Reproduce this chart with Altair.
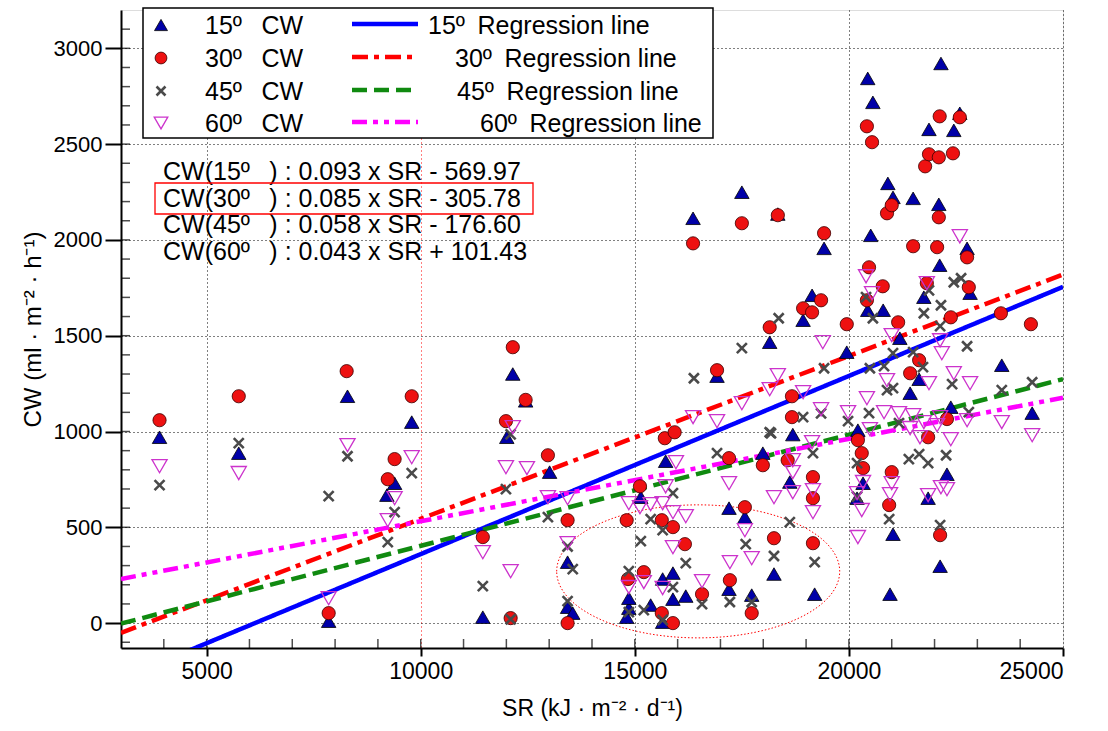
import altair as alt
import pandas as pd

# ---------------- data ----------------
sr15 = [3900, 5750, 7850, 8290, 9210, 9390, 9790, 11450, 12010, 12150, 12450, 13010, 13430, 13430, 13550,
        14810, 14860, 14860, 15140, 15370, 15650, 15650, 15720, 15890, 15890, 16190, 16360, 16920, 17200,
        17200, 17500, 17570, 17730, 17990, 18150, 18250, 18340, 18620, 18690, 18930, 19140, 19200, 19420,
        19950, 20190, 20210, 20330, 20440, 20440, 20510, 20560, 20800, 20910, 20960, 21030, 21030, 21190,
        21430, 21500, 21640, 21750, 21850, 21870, 22100, 22120, 22130, 22150, 22290, 22380, 22450, 22590,
        22760, 22830, 23570, 24280]
cw15 = [970, 887, 10, 1184, 668, 730, 1049, 31, 970, 1300, 1160, 788, 318, 83, 52,
        31, 78, 130, 657, 94, 5, 230, 845, 125, 261, 141, 2113, 1289, 177,
        600, 2249, 553, 146, 887, 1466, 256, 2135, 736, 984, 1581, 1711, 151, 1956,
        1414, 652, 1007, 730, 2843, 1633, 2024, 2718, 1633, 2295, 151, 2222, 464, 1487,
        1200, 2217, 1273, 1701, 652, 2577, 2186, 1868, 297, 2921, 777, 1127, 2572, 2661,
        1956, 1722, 1346, 1096]

sr30 = [3900, 5750, 7850, 8270, 9230, 9390, 9790, 11450, 11990, 12100, 12150, 12450, 12970, 13430, 13430,
        14810, 14840, 15120, 15210, 15630, 15630, 15700, 15890, 15890, 15930, 16170, 16360, 16570, 16920,
        17200, 17220, 17500, 17570, 17730, 17990, 18150, 18250, 18340, 18570, 18670, 18670, 18930, 19140,
        19160, 19160, 19160, 19350, 19420, 19950, 20210, 20300, 20330, 20420, 20420, 20470, 20540, 20790,
        20890, 20940, 21000, 21000, 21150, 21430, 21500, 21640, 21780, 21820, 21850, 21870, 22060, 22100,
        22100, 22120, 22130, 22290, 22380, 22430, 22590, 22760, 22800, 23550, 24250]
cw30 = [1059, 1184, 52, 1315, 751, 856, 1184, 449, 1054, 26, 1440, 1165, 876, 537, 0,
        537, 230, 714, 266, 537, 52, 965, 501, 0, 996, 412, 1982, 151, 1320,
        861, 224, 2087, 605, 52, 824, 1544, 443, 2129, 850, 1075, 1184, 1643, 1622,
        762, 652, 417, 1685, 2035, 1560, 955, 887, 809, 2593, 1685, 1857, 2510, 1758,
        2139, 616, 2181, 788, 1570, 1304, 1967, 1372, 2384, 1774, 970, 2447, 1962, 2431,
        2118, 2645, 459, 1065, 1596, 2452, 2640, 1909, 1753, 1617, 1560]

sr45 = [3900, 5750, 7850, 8290, 9230, 9390, 9790, 11450, 11990, 12100, 12100, 12970, 13430, 13430, 13550,
        14860, 14860, 15140, 15210, 15370, 15650, 15650, 15890, 15890, 16190, 16380, 16570, 16920, 17220,
        17500, 17590, 17730, 18150, 18180, 18250, 18360, 18620, 18930, 19160, 19200, 19350, 19420, 19980,
        20190, 20190, 20400, 20470, 20490, 20560, 20820, 20890, 20940, 21030, 21030, 21170, 21400, 21500,
        21640, 21730, 21750, 21850, 21870, 22130, 22130, 22150, 22270, 22410, 22450, 22620, 22760, 22800,
        23570, 24280]
cw45 = [720, 939, 663, 871, 423, 579, 783, 193, 699, 985, 20, 553, 400, 115, 282,
        271, 57, 428, 68, 543, 485, 16, 678, 188, 313, 1278, 99, 887, 110,
        1435, 412, 110, 996, 991, 350, 1591, 527, 1075, 887, 318, 1095, 1330, 1054,
        835, 660, 1701, 1096, 1330, 1591, 1341, 1216, 543, 1409, 1226, 1044, 856, 1414,
        882, 1336, 1617, 835, 1737, 1550, 511, 1659, 876, 1247, 1779, 1800, 1445, 1101,
        1216, 1257]

sr60 = [3900, 5750, 7850, 8290, 9230, 9390, 9790, 11450, 11990, 12100, 12150, 12480, 12970, 13430, 13430,
        14860, 14860, 15120, 15210, 15370, 15650, 15650, 15720, 15890, 15890, 15960, 16190, 16360, 16570,
        16920, 17200, 17220, 17500, 17570, 17730, 18150, 18250, 18340, 18690, 18690, 18690, 18930, 19140,
        19160, 19160, 19350, 19390, 19980, 20190, 20210, 20300, 20330, 20400, 20420, 20490, 20540, 20820,
        20890, 20960, 21000, 21000, 21170, 21430, 21500, 21660, 21750, 21820, 21850, 21870, 22060, 22130,
        22130, 22150, 22170, 22290, 22380, 22450, 22590, 22760, 22830, 23570, 24280]
cw60 = [819, 783, 130, 929, 537, 652, 866, 370, 814, 271, 1023, 809, 657, 652, 417,
        626, 188, 605, 214, 621, 626, 183, 714, 579, 396, 840, 558, 1075, 219,
        1054, 730, 318, 1148, 485, 339, 1221, 657, 1294, 683, 788, 850, 1205, 944,
        694, 579, 1116, 1466, 1101, 678, 449, 590, 736, 1810, 1174, 1012, 1722, 1101,
        1268, 673, 1503, 730, 1096, 1018, 1085, 970, 1049, 1774, 668, 1252, 1033, 1476,
        1075, 709, 1409, 699, 960, 1304, 2019, 1059, 1252, 1049, 981]

angles = ["15º", "30º", "45º", "60º"]
slopes = [0.093, 0.085, 0.058, 0.043]
intercepts = [-569.97, -305.78, -176.60, 101.43]
GAP = "\u2002\u00a0"
eq_texts = [f"CW(15º{GAP}) : 0.093 x SR - 569.97",
            f"CW(30º{GAP}) : 0.085 x SR - 305.78",
            f"CW(45º{GAP}) : 0.058 x SR - 176.60",
            f"CW(60º{GAP}) : 0.043 x SR + 101.43"]
x_ticks = [5000, 10000, 15000, 20000, 25000]
y_ticks = [0, 500, 1000, 1500, 2000, 2500, 3000]
x_minor = list(range(4000, 25000, 1000))
y_minor = list(range(-100, 3200, 100))
ellipse_center = [16480, 270]

# ---------------- styling ----------------
FONT = "Liberation Sans"
NARROW = "Liberation Sans Narrow, Arial Narrow, Liberation Sans"
W, H = 942, 638
XDOM = [3000, 25000]
YDOM = [-130, 3200]
grid_color = {"condition": {"test": "datum.value === 10000", "value": "#ff0000"}, "value": "#000000"}


def X():
    return alt.X("SR:Q", scale=alt.Scale(domain=XDOM, nice=False, zero=False),
                 axis=alt.Axis(values=x_ticks, format="d", title="SR (kJ · m⁻² · d⁻¹)",
                               grid=True, gridDash=[1, 3], gridColor=grid_color, gridWidth=1,
                               tickSize=8, tickWidth=2, tickColor="black",
                               domainColor="black", domainWidth=2,
                               labelFontSize=23, titleFontSize=23, labelPadding=4, titlePadding=14,
                               labelFont=NARROW, titleFont=NARROW, titleFontWeight="normal",
                               labelColor="black", titleColor="black"))


def Y():
    return alt.Y("CW:Q", scale=alt.Scale(domain=YDOM, nice=False, zero=False),
                 axis=alt.Axis(values=y_ticks, format="d", title="CW (ml · m⁻² · h⁻¹)",
                               grid=True, gridDash=[1, 3], gridColor="#000000", gridWidth=1,
                               tickSize=16, tickWidth=2, tickColor="black",
                               domainColor="black", domainWidth=2,
                               labelFontSize=22, titleFontSize=24, labelPadding=3, titlePadding=8,
                               labelFont=FONT, titleFont=FONT, titleFontWeight="normal",
                               labelColor="black", titleColor="black"))


def pts(sr, cw):
    return pd.DataFrame({"SR": sr, "CW": cw})


base_grid = alt.Chart(pts([3000], [0])).mark_point(opacity=0).encode(x=X(), y=Y())

# inside minor ticks
xt = alt.Chart(pd.DataFrame({"SR": x_minor})).mark_tick(orient="vertical", size=9, thickness=1.5,
                                                          color="black").encode(x=X(), y=alt.value(H - 4.5))
yt = alt.Chart(pd.DataFrame({"CW": y_minor})).mark_tick(orient="horizontal", size=9, thickness=1.5,
                                                          color="black").encode(y=Y(), x=alt.value(4.5))

# regression lines
line_styles = [
    dict(color="#0000ff", strokeDash=[1, 0]),
    dict(color="#ff0000", strokeDash=[16, 6, 5, 6]),
    dict(color="#108a10", strokeDash=[15, 7]),
    dict(color="#ff00ff", strokeDash=[15, 6, 5, 6, 5, 6]),
]
reg_layers = []
for a, m, b, st in zip(angles, slopes, intercepts, line_styles):
    df = pd.DataFrame({"SR": XDOM, "CW": [m * XDOM[0] + b, m * XDOM[1] + b]})
    reg_layers.append(alt.Chart(df).mark_line(strokeWidth=4.5, clip=True, **st).encode(x=X(), y=Y()))

XPATH = "M-1,-1L1,1M-1,1L1,-1"
sym_marks = [
    dict(shape="triangle-up", filled=True, fill="#0000a8", stroke="black", strokeWidth=0.8, size=210),
    dict(shape="circle", filled=True, fill="#ee1111", stroke="#3a0000", strokeWidth=0.8, size=175),
    dict(shape=XPATH, filled=False, stroke="#4a4a4a", strokeWidth=2.6, size=100),
    dict(shape="triangle-down", filled=False, stroke="#cc33cc", strokeWidth=1.3, size=230),
]
series = [(sr15, cw15), (sr30, cw30), (sr45, cw45), (sr60, cw60)]
pt_layers = [alt.Chart(pts(s, c)).mark_point(opacity=1, **sm).encode(x=X(), y=Y())
             for (s, c), sm in zip(series, sym_marks)]

# dotted ellipse annotation
k = 0.5523
rx, ry = 1.0, 0.47
ell_path = (f"M{-rx},0 C{-rx},{-k*ry} {-k*rx},{-ry} 0,{-ry} C{k*rx},{-ry} {rx},{-k*ry} {rx},0 "
            f"C{rx},{k*ry} {k*rx},{ry} 0,{ry} C{-k*rx},{ry} {-rx},{k*ry} {-rx},0 Z")
ell = alt.Chart(pts([ellipse_center[0]], [ellipse_center[1]])).mark_point(
    shape=ell_path, filled=False, stroke="#ff0000", strokeWidth=1, strokeDash=[1.5, 2],
    size=283 ** 2, opacity=1).encode(x=X(), y=Y())

# ---------------- legend ----------------
one = pd.DataFrame({"a": [0]})
leg = [alt.Chart(one).mark_rect(fill="white", stroke="black", strokeWidth=1.5).encode(
    x=alt.value(22), x2=alt.value(592), y=alt.value(-2), y2=alt.value(128))]
rows_y = [15, 48, 81, 113]
lab_x = [307, 334, 336, 359]
for i in range(4):
    yy = rows_y[i]
    sm = dict(sym_marks[i])
    sm["size"] = sm["size"] * 0.8
    leg.append(alt.Chart(one).mark_point(opacity=1, **sm).encode(x=alt.value(40), y=alt.value(yy)))
    leg.append(alt.Chart(one).mark_text(align="left", baseline="middle", fontSize=25, font=FONT,
                                        color="black").encode(x=alt.value(84), y=alt.value(yy + 1),
                                                              text=alt.value(f"{angles[i]}{GAP}CW")))
    leg.append(alt.Chart(one).mark_rule(strokeWidth=4.5, **line_styles[i]).encode(
        x=alt.value(231), x2=alt.value(297), y=alt.value(yy - 1)))
    leg.append(alt.Chart(one).mark_text(align="left", baseline="middle", fontSize=25, font=FONT,
                                        color="black").encode(x=alt.value(lab_x[i]), y=alt.value(yy + 1),
                                                              text=alt.value(f"{angles[i]}\u2002Regression line")))

# equations
eq_y = [162, 189, 215, 242]
eq_layers = []
for t, yy in zip(eq_texts, eq_y):
    eq_layers.append(alt.Chart(one).mark_text(align="left", baseline="middle", fontSize=25, font=FONT,
                                              color="black").encode(x=alt.value(42), y=alt.value(yy),
                                                                    text=alt.value(t)))
eq_layers.append(alt.Chart(one).mark_rect(fill=None, filled=False, stroke="#ff0000", strokeWidth=1.3).encode(
    x=alt.value(34), x2=alt.value(412), y=alt.value(173), y2=alt.value(204)))

chart = alt.layer(base_grid, xt, yt, *reg_layers, ell, *pt_layers, *eq_layers, *leg).properties(
    width=W, height=H,
    padding={"left": 121, "top": 10, "right": 45, "bottom": 83},
    autosize=alt.AutoSizeParams(type="none"),
).configure_view(stroke="#555555", strokeWidth=2).configure(font=FONT)

chart.save("out.html", embed_options={"renderer": "svg", "actions": False})
